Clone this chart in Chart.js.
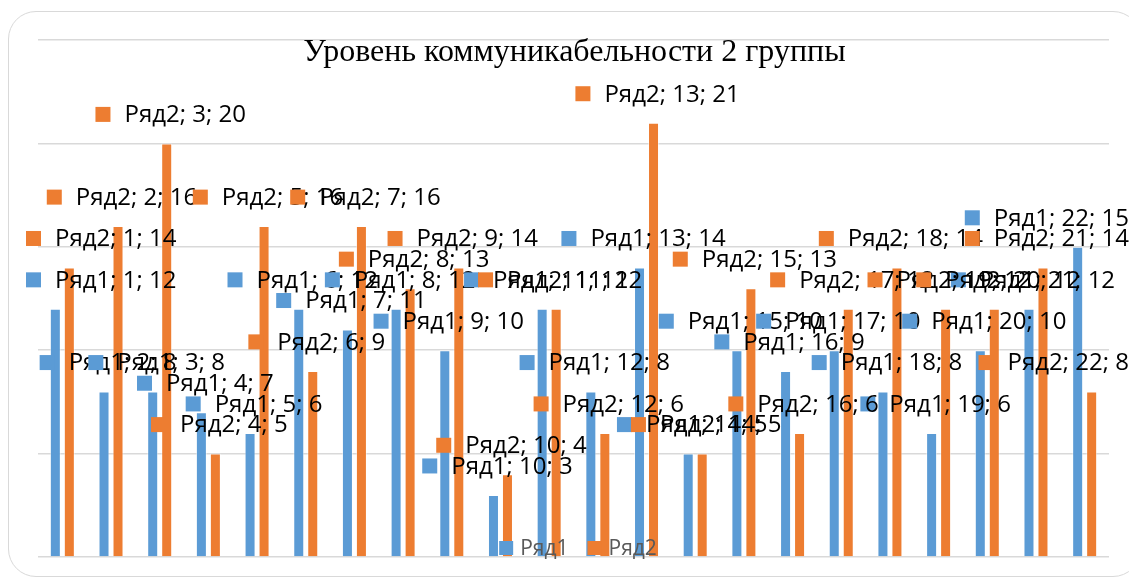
<!DOCTYPE html>
<html>
<head>
<meta charset="utf-8">
<script src="https://cdn.jsdelivr.net/npm/chart.js@4/dist/chart.umd.min.js"></script>
<style>
	body { margin: 0; background: #fff; }
	#wrap { position: relative; width: 1129px; height: 579px; overflow: hidden; }
	#frame {
		position: absolute; left: 8px; top: 11px; width: 1133px; height: 566px;
		border: 1.5px solid #d9d9d9; border-radius: 28px; box-sizing: border-box;
	}
	#myChart { position: absolute; left: 0; top: 0; }
</style>
</head>
<body>
<div id="wrap">
	<div id="frame"></div>
	<canvas id="myChart" width="1129" height="579"></canvas>
</div>
<script>
const chartTitle = "Уровень коммуникабельности 2 группы";
const categories = [1, 2, 3, 4, 5, 6, 7, 8, 9, 10, 11, 12, 13, 14, 15, 16, 17, 18, 19, 20, 21, 22];
const seriesNames = ["Ряд1", "Ряд2"];
const ryad1 = [12, 8, 8, 7, 6, 12, 11, 12, 10, 3, 12, 8, 14, 5, 10, 9, 10, 8, 6, 10, 12, 15];
const ryad2 = [14, 16, 20, 5, 16, 9, 16, 13, 14, 4, 12, 6, 21, 5, 13, 6, 12, 14, 12, 12, 14, 8];
const yTicks = [0, 5, 10, 15, 20, 25];

const colors = ["#5b9bd5", "#ed7d31"];
const labelFont = '24px "Open Sans"';

// title, data labels ("Ряд1; 1; 12") and legend are drawn by hand, like Excel does
const excelBits = {
	id: "excelBits",
	afterDatasetsDraw(chart) {
		const ctx = chart.ctx;
		const area = chart.chartArea;

		ctx.save();
		ctx.font = '32px "Liberation Serif"';
		ctx.fillStyle = "#000";
		ctx.textAlign = "center";
		ctx.textBaseline = "middle";
		ctx.fillText(chartTitle, (area.left + area.right) / 2 + 1, 53);

		ctx.font = labelFont;
		ctx.textAlign = "left";
		chart.data.datasets.forEach((ds, di) => {
			const meta = chart.getDatasetMeta(di);
			meta.data.forEach((bar, i) => {
				const txt = `${ds.label}; ${categories[i]}; ${ds.data[i]}`;
				const tw = ctx.measureText(txt).width;
				const w = 15 + 14 + tw;
				let x = bar.x + 4 - w / 2;
				if (x < 26) x = 26;
				if (x + w > chart.width) x = chart.width - w;
				const y = bar.y - 29;
				ctx.fillStyle = ds.backgroundColor;
				ctx.fillRect(x, y - 7.5, 15, 15);
				ctx.fillStyle = "#000";
				ctx.fillText(txt, x + 29, y + 1);
			});
		});

		// legend
		ctx.font = '21px "Open Sans"';
		const items = chart.data.datasets.map(ds => ({ label: ds.label, color: ds.backgroundColor, w: 14 + 7 + ctx.measureText(ds.label).width }));
		const total = items.reduce((s, it) => s + it.w, 0) + 19 * (items.length - 1);
		let lx = 578 - total / 2;
		items.forEach(it => {
			ctx.fillStyle = it.color;
			ctx.fillRect(lx, 541, 14, 14);
			ctx.fillStyle = "#595959";
			ctx.fillText(it.label, lx + 21, 549);
			lx += it.w + 19;
		});
		ctx.restore();
	}
};

const config = {
	type: "bar",
	data: {
		labels: categories,
		datasets: [
			{ label: seriesNames[0], data: ryad1, backgroundColor: colors[0], borderColor: "rgba(255,255,255,0.5)", borderWidth: 1 },
			{ label: seriesNames[1], data: ryad2, backgroundColor: colors[1], borderColor: "rgba(255,255,255,0.5)", borderWidth: 1 }
		]
	},
	options: {
		responsive: false,
		animation: false,
		categoryPercentage: 0.575,
		barPercentage: 0.786,
		layout: { padding: { left: 38, right: 20, top: 40, bottom: 22 } },
		plugins: {
			legend: { display: false },
			title: { display: false },
			tooltip: { enabled: false }
		},
		scales: {
			x: { display: false },
			y: {
				min: yTicks[0],
				max: yTicks[yTicks.length - 1],
				afterBuildTicks: axis => { axis.ticks = yTicks.map(v => ({ value: v })); },
				ticks: { display: false },
				border: { display: false },
				grid: { color: "#d9d9d9", lineWidth: 1.5, drawTicks: false }
			}
		}
	},
	plugins: [excelBits]
};

new Chart(document.getElementById("myChart"), config);
</script>
</body>
</html>
